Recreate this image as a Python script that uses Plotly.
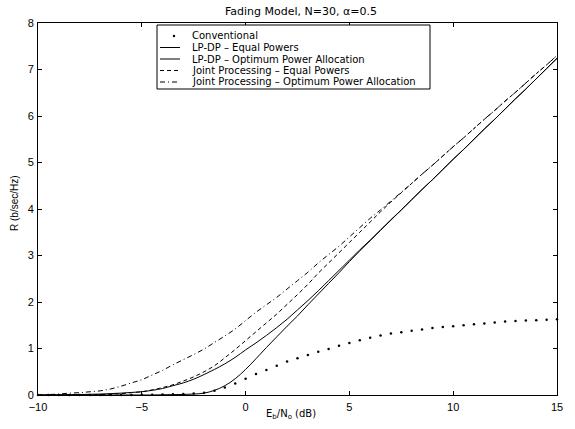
import plotly.graph_objects as go

# Eb/No grid (dB)
ebno_db = [-10 + 0.5 * i for i in range(51)]

# Spectral efficiency R (b/sec/Hz) for each scheme
r_conventional = [
    0.00, 0.00, 0.00, 0.00, 0.00, 0.00, 0.00, 0.00, 0.00, 0.00,
    0.005, 0.007, 0.01, 0.015, 0.02, 0.03, 0.05, 0.09, 0.16, 0.25,
    0.35, 0.45, 0.54, 0.63, 0.72, 0.79, 0.86, 0.93, 0.99, 1.06,
    1.12, 1.18, 1.23, 1.28, 1.32, 1.35, 1.38, 1.41, 1.44, 1.46,
    1.48, 1.50, 1.52, 1.54, 1.56, 1.58, 1.59, 1.60, 1.61, 1.62, 1.63,
]
r_lpdp_equal = [
    0.00, 0.00, 0.00, 0.00, 0.00, 0.00, 0.00, 0.00, 0.00, 0.00,
    0.00, 0.00, 0.005, 0.008, 0.012, 0.02, 0.04, 0.10, 0.20, 0.35,
    0.55, 0.78, 1.02, 1.25, 1.48, 1.70, 1.94, 2.17, 2.40, 2.63,
    2.87, 3.10, 3.32, 3.54, 3.76, 3.98, 4.20, 4.42, 4.63, 4.85,
    5.07, 5.28, 5.50, 5.72, 5.93, 6.15, 6.37, 6.58, 6.80, 7.02, 7.24,
]
r_lpdp_opt = [
    0.00, 0.002, 0.005, 0.007, 0.01, 0.015, 0.02, 0.03, 0.04, 0.055,
    0.07, 0.10, 0.14, 0.20, 0.26, 0.34, 0.44, 0.55, 0.67, 0.81,
    0.97, 1.12, 1.28, 1.45, 1.63, 1.83, 2.03, 2.24, 2.46, 2.68,
    2.90, 3.12, 3.33, 3.55, 3.77, 3.98, 4.20, 4.42, 4.63, 4.85,
    5.07, 5.28, 5.50, 5.72, 5.93, 6.15, 6.37, 6.58, 6.80, 7.02, 7.24,
]
r_joint_equal = [
    0.00, 0.00, 0.001, 0.003, 0.005, 0.007, 0.01, 0.02, 0.03, 0.05,
    0.07, 0.11, 0.16, 0.22, 0.30, 0.39, 0.50, 0.63, 0.80, 0.98,
    1.17, 1.36, 1.55, 1.74, 1.95, 2.16, 2.38, 2.62, 2.84, 3.06,
    3.28, 3.50, 3.72, 3.94, 4.15, 4.35, 4.55, 4.75, 4.94, 5.14,
    5.34, 5.53, 5.73, 5.93, 6.12, 6.32, 6.51, 6.71, 6.91, 7.10, 7.30,
]
r_joint_opt = [
    0.00, 0.01, 0.02, 0.04, 0.05, 0.07, 0.09, 0.13, 0.19, 0.26,
    0.33, 0.43, 0.53, 0.65, 0.76, 0.87, 0.99, 1.13, 1.27, 1.42,
    1.60, 1.78, 1.94, 2.10, 2.28, 2.46, 2.64, 2.84, 3.02, 3.20,
    3.40, 3.60, 3.80, 3.98, 4.17, 4.36, 4.55, 4.75, 4.94, 5.14,
    5.34, 5.53, 5.73, 5.93, 6.12, 6.32, 6.51, 6.71, 6.91, 7.10, 7.30,
]

legend_labels = [
    "Conventional",
    "LP-DP \u2013 Equal Powers",
    "LP-DP \u2013 Optimum Power Allocation",
    "Joint Processing \u2013 Equal Powers",
    "Joint Processing \u2013 Optimum Power Allocation",
]
title_text = "Fading Model, N=30, \u03b1=0.5"
x_title = "E<sub>b</sub>/N<sub>o</sub> (dB)"
y_title = "R (b/sec/Hz)"
x_ticks = [-10, -5, 0, 5, 10, 15]
y_ticks = [0, 1, 2, 3, 4, 5, 6, 7, 8]

FONT = "Liberation Sans, Arial, sans-serif"
FONT_WIDE = "DejaVu Sans, Verdana, sans-serif"
W, H = 575, 429
ML, MR, MT, MB = 38, 18, 23, 34
PW, PH = W - ML - MR, H - MT - MB

def px(x):
    return (x - ML) / PW

def py(y):
    return (H - MB - y) / PH

line_styles = [
    None,
    dict(color="black", width=1, dash="solid"),
    dict(color="black", width=1, dash="solid"),
    dict(color="black", width=1, dash="4px,3px"),
    dict(color="black", width=1, dash="5px,3px,1px,3px"),
]

fig = go.Figure()
fig.add_trace(go.Scatter(x=ebno_db, y=r_conventional, mode="markers",
                         marker=dict(color="black", size=2.5), name=legend_labels[0],
                         cliponaxis=False))
for ys, name, ls in zip([r_lpdp_equal, r_lpdp_opt, r_joint_equal, r_joint_opt],
                        legend_labels[1:], line_styles[1:]):
    fig.add_trace(go.Scatter(x=ebno_db, y=ys, mode="lines", line=ls, name=name,
                             line_shape="spline"))

# Boxed legend in the top part of the axes
shapes = [dict(type="rect", xref="paper", yref="paper",
               x0=px(157), x1=px(430), y0=py(89), y1=py(25),
               line=dict(color="black", width=1), fillcolor="white", layer="above")]
annotations = []
rows = [36, 47.5, 59, 70.5, 82]
for i, (label, yrow) in enumerate(zip(legend_labels, rows)):
    if i == 0:
        shapes.append(dict(type="circle", xref="paper", yref="paper",
                           x0=px(172.8), x1=px(175.2), y0=py(yrow + 1.2), y1=py(yrow - 1.2),
                           fillcolor="black", line=dict(color="black", width=0),
                           layer="above"))
    else:
        shapes.append(dict(type="line", xref="paper", yref="paper",
                           x0=px(160), x1=px(180), y0=py(yrow), y1=py(yrow),
                           line=line_styles[i], layer="above"))
    annotations.append(dict(text=label, xref="paper", yref="paper",
                            x=px(190), y=py(yrow), xanchor="left", yanchor="middle",
                            showarrow=False,
                            font=dict(size=10, color="black", family=FONT_WIDE)))

annotations.append(dict(text=x_title, xref="paper", yref="paper", x=px(291), y=0,
                        xanchor="center", yanchor="top", yshift=-11, showarrow=False,
                        font=dict(size=10, color="black", family=FONT_WIDE)))
annotations.append(dict(text=y_title, xref="paper", yref="paper", x=0, y=py(203),
                        xanchor="center", yanchor="middle", xshift=-24, textangle=-90,
                        showarrow=False, font=dict(size=10, color="black", family=FONT)))

axis_common = dict(showline=True, linecolor="black", linewidth=1, mirror="ticks",
                   ticks="inside", ticklen=4, tickcolor="black", showgrid=False,
                   zeroline=False, tickfont=dict(size=11, color="black", family=FONT))

fig.update_layout(
    width=W, height=H,
    margin=dict(l=ML, r=MR, t=MT, b=MB),
    paper_bgcolor="white", plot_bgcolor="white",
    showlegend=False,
    title=dict(text=title_text, x=px(301), xref="paper", xanchor="center",
               y=1 - 11 / H, yref="container", yanchor="middle",
               font=dict(size=11, color="black", family=FONT_WIDE)),
    xaxis=dict(range=[-10, 15], tickvals=x_ticks, ticklabelstandoff=2, **axis_common),
    yaxis=dict(range=[0, 8], tickvals=y_ticks, ticklabelstandoff=1, **axis_common),
    shapes=shapes,
    annotations=annotations,
)

fig.write_html("out.html")
